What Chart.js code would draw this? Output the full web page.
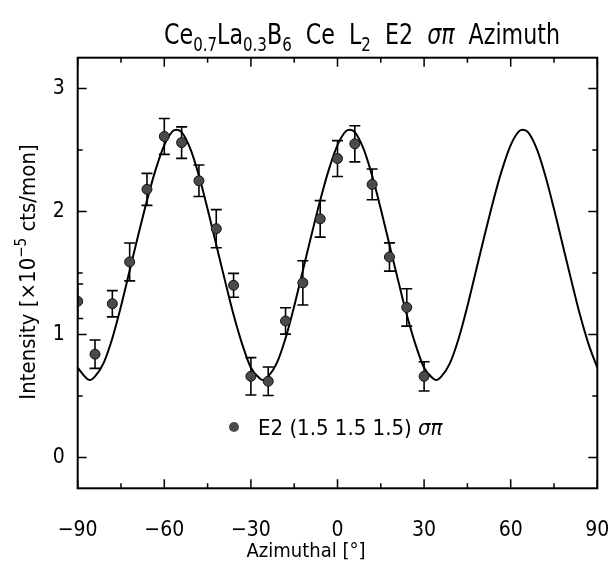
<!DOCTYPE html>
<html>
<head>
<meta charset="utf-8">
<script src="https://cdn.jsdelivr.net/npm/chart.js@4.4.1/dist/chart.umd.min.js"></script>
<style>
  html, body { margin: 0; padding: 0; background: #fff; }
</style>
</head>
<body>
<canvas id="chart" width="613" height="565"></canvas>
<script>
// measured points (azimuth in degrees, intensity x1e-5)
const pointX = [-90, -84, -78, -72, -66, -60, -54, -48, -42, -36, -30, -24, -18, -12, -6, 0, 6, 12, 18, 24, 30];
const pointY = [1.27, 0.84, 1.25, 1.59, 2.18, 2.61, 2.56, 2.25, 1.86, 1.40, 0.66, 0.62, 1.11, 1.42, 1.94, 2.43, 2.55, 2.22, 1.63, 1.22, 0.66];
const pointErr = [0.14, 0.115, 0.107, 0.154, 0.13, 0.146, 0.128, 0.128, 0.155, 0.097, 0.152, 0.116, 0.107, 0.18, 0.148, 0.146, 0.147, 0.125, 0.115, 0.152, 0.119];

// fit curve
const curveX = [-90, -87, -85.8, -84, -81, -78, -75, -72, -69, -66, -63, -60, -57, -55.8, -54, -51, -48, -45, -42, -39, -36, -33, -30, -27, -25.8,
  -24, -21, -18, -15, -12, -9, -6, -3, 0, 3, 4.2, 6, 9, 12, 15, 18, 21, 24, 27, 30, 33, 34.2,
  36, 39, 42, 45, 48, 51, 54, 57, 60, 63, 64.2, 66, 69, 72, 75, 78, 81, 84, 87, 90];
const curveY = [0.73, 0.645, 0.63, 0.66, 0.77, 0.97, 1.23, 1.52, 1.81, 2.09, 2.34, 2.54, 2.655, 2.665, 2.645, 2.51, 2.29, 2.02, 1.73, 1.44, 1.16, 0.92, 0.73, 0.645, 0.63,
  0.66, 0.77, 0.97, 1.23, 1.52, 1.81, 2.09, 2.34, 2.54, 2.655, 2.665, 2.645, 2.51, 2.29, 2.02, 1.73, 1.44, 1.16, 0.92, 0.73, 0.645, 0.63,
  0.66, 0.77, 0.97, 1.23, 1.52, 1.81, 2.09, 2.34, 2.54, 2.655, 2.665, 2.645, 2.51, 2.29, 2.02, 1.73, 1.44, 1.16, 0.92, 0.73];

const xMajor = [-90, -60, -30, 0, 30, 60, 90];
const xMinor = [-75, -45, -15, 15, 45, 75];
const yMajor = [0, 1, 2, 3];
const yMinor = [0.5, 1.5, 2.5];

const FONT = '"DejaVu Sans Condensed", "DejaVu Sans", sans-serif';
const markFill = '#4a4a4a';

// draws a run of [text, mode] pieces; mode n = normal, s = subscript, p = superscript, i = italic
function drawRuns(ctx, parts, x, y, size, align) {
  const small = Math.round(size * 0.68);
  const fontOf = m => (m === 'i' ? 'italic ' : '') + (m === 's' || m === 'p' ? small : size) + 'px ' + FONT;
  let total = 0;
  parts.forEach(([t, m]) => { ctx.font = fontOf(m); total += ctx.measureText(t).width; });
  let cx = align === 'center' ? x - total / 2 : x;
  ctx.textAlign = 'left';
  parts.forEach(([t, m]) => {
    ctx.font = fontOf(m);
    const dy = m === 's' ? size * 0.25 : (m === 'p' ? -size * 0.42 : 0);
    ctx.fillText(t, cx, y + dy);
    cx += ctx.measureText(t).width;
  });
}

// frame, inward ticks on all four sides, error bars, texts
const framePlugin = {
  id: 'frame',
  beforeDatasetDraw(chart, args) {
    if (args.index !== 0) return;
    const { ctx, chartArea: a, scales: { x, y } } = chart;
    ctx.save();
    ctx.beginPath();
    ctx.rect(a.left, a.top, a.right - a.left, a.bottom - a.top);
    ctx.clip();
    ctx.strokeStyle = '#000';
    ctx.lineWidth = 1.6;
    pointX.forEach((v, i) => {
      const px = x.getPixelForValue(v);
      const top = y.getPixelForValue(pointY[i] + pointErr[i]);
      const bot = y.getPixelForValue(pointY[i] - pointErr[i]);
      ctx.beginPath();
      ctx.moveTo(px, top); ctx.lineTo(px, bot);
      ctx.moveTo(px - 5.5, top); ctx.lineTo(px + 5.5, top);
      ctx.moveTo(px - 5.5, bot); ctx.lineTo(px + 5.5, bot);
      ctx.stroke();
    });
    ctx.restore();
  },
  afterDraw(chart) {
    const { ctx, chartArea: a, scales: { x, y } } = chart;
    ctx.save();
    ctx.strokeStyle = '#000';
    ctx.lineWidth = 2;
    ctx.strokeRect(a.left, a.top, a.right - a.left, a.bottom - a.top);
    ctx.lineWidth = 1.5;
    ctx.beginPath();
    const xt = (v, len) => {
      const p = x.getPixelForValue(v);
      ctx.moveTo(p, a.bottom); ctx.lineTo(p, a.bottom - len);
      ctx.moveTo(p, a.top); ctx.lineTo(p, a.top + len);
    };
    const yt = (v, len) => {
      const p = y.getPixelForValue(v);
      ctx.moveTo(a.left, p); ctx.lineTo(a.left + len, p);
      ctx.moveTo(a.right, p); ctx.lineTo(a.right - len, p);
    };
    xMajor.forEach(v => xt(v, 9));
    xMinor.forEach(v => xt(v, 5));
    yMajor.forEach(v => yt(v, 9));
    yMinor.forEach(v => yt(v, 5));
    ctx.stroke();

    ctx.fillStyle = '#000';
    ctx.textBaseline = 'alphabetic';

    // legend
    const lx = 234, ly = 427;
    ctx.fillStyle = markFill;
    ctx.beginPath();
    ctx.arc(lx, ly, 5, 0, Math.PI * 2);
    ctx.fill();
    ctx.fillStyle = '#000';
    drawRuns(ctx, [['E2 (1.5 1.5 1.5) ', 'n'], ['σπ', 'i']], 258, ly + 8, 22, 'left');

    // title
    ctx.save();
    ctx.translate(362, 0);
    ctx.scale(0.88, 1);
    drawRuns(ctx, [
      ['Ce', 'n'], ['0.7', 's'], ['La', 'n'], ['0.3', 's'], ['B', 'n'], ['6', 's'],
      ['  Ce  L', 'n'], ['2', 's'], ['  E2  ', 'n'], ['σπ', 'i'], ['  Azimuth', 'n']
    ], 0, 44, 28, 'center');
    ctx.restore();

    // x axis title, centred on the page
    drawRuns(ctx, [['Azimuthal [°]', 'n']], 306, 557, 20, 'center');

    // y axis title
    ctx.translate(35, 272);
    ctx.rotate(-Math.PI / 2);
    drawRuns(ctx, [['Intensity [×10', 'n'], ['−5', 'p'], [' cts/mon]', 'n']], 0, 0, 22, 'center');
    ctx.restore();
  }
};

new Chart(document.getElementById('chart'), {
  type: 'scatter',
  data: {
    datasets: [
      {
        label: 'E2 (1.5 1.5 1.5) σπ',
        data: pointX.map((v, i) => ({ x: v, y: pointY[i] })),
        pointRadius: 5,
        pointBackgroundColor: markFill,
        pointBorderColor: '#111',
        pointBorderWidth: 1,
        showLine: false,
        clip: 0
      },
      {
        label: 'fit',
        data: curveX.map((v, i) => ({ x: v, y: curveY[i] })),
        showLine: true,
        borderColor: '#000',
        borderWidth: 2,
        pointRadius: 0,
        cubicInterpolationMode: 'monotone',
        clip: 0
      }
    ]
  },
  options: {
    responsive: false,
    animation: false,
    devicePixelRatio: 1,
    layout: { padding: { top: 57.7, right: 15.7, left: 0, bottom: 0 } },
    plugins: { legend: { display: false }, tooltip: { enabled: false }, title: { display: false } },
    scales: {
      x: {
        type: 'linear', min: -90, max: 90,
        ticks: { stepSize: 30, includeBounds: false, color: '#000', padding: 30, maxRotation: 0,
          font: { family: FONT, size: 21 }, callback: v => (v < 0 ? '−' + Math.abs(v) : '' + v) },
        grid: { display: false, drawTicks: false },
        border: { display: false },
        afterFit(s) { s.height = 76.7; s.paddingLeft = 0; s.paddingRight = 0; }
      },
      y: {
        min: -0.25, max: 3.25,
        ticks: { stepSize: 1, includeBounds: false, color: '#000', padding: 13,
          font: { family: FONT, size: 21 } },
        grid: { display: false, drawTicks: false },
        border: { display: false },
        afterFit(s) { s.width = 77.7; s.paddingTop = 0; s.paddingBottom = 0; }
      }
    }
  },
  plugins: [framePlugin]
});
</script>
</body>
</html>
